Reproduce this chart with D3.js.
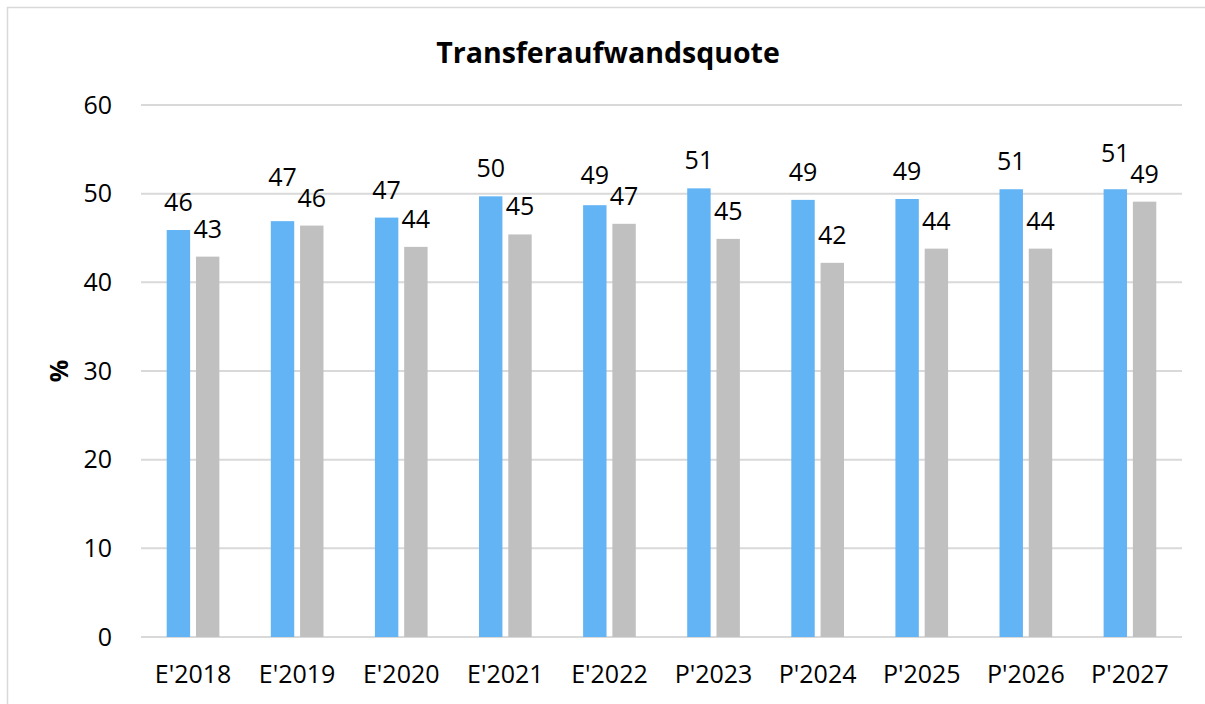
<!DOCTYPE html>
<html>
<head>
<meta charset="utf-8">
<script src="https://cdn.jsdelivr.net/npm/d3@7"></script>
<style>
  body { margin: 0; background: #fff; }
  text { font-family: "Open Sans", sans-serif; fill: #000; }
</style>
</head>
<body>
<script>
var width = 1205,
    height = 704;

var categories = ["E'2018", "E'2019", "E'2020", "E'2021", "E'2022", "P'2023", "P'2024", "P'2025", "P'2026", "P'2027"];
var seriesA = [45.9, 46.9, 47.3, 49.7, 48.7, 50.6, 49.3, 49.4, 50.5, 50.5];   // blue
var seriesB = [42.9, 46.4, 44.0, 45.4, 46.6, 44.9, 42.2, 43.8, 43.8, 49.1];   // gray
var yTicks = [0, 10, 20, 30, 40, 50, 60];

var margin = {left: 141, right: 23, top: 105, bottom: 67};

var svg = d3.select("body").append("svg")
    .attr("width", width)
    .attr("height", height);

// chart border
svg.append("rect")
    .attr("x", 7.5).attr("y", 7.5)
    .attr("width", width + 20).attr("height", height + 20)
    .attr("fill", "none")
    .attr("stroke", "#d9d9d9")
    .attr("stroke-width", 1.5);

var xScale = d3.scaleBand()
    .domain(categories)
    .range([margin.left, width - margin.right]);

var groupW = xScale.bandwidth() * 0.506;
var x1 = d3.scaleBand()
    .domain(["A", "B"])
    .range([0, groupW])
    .paddingInner(0.2);

var yScale = d3.scaleLinear()
    .domain([0, 60])
    .range([height - margin.bottom, margin.top]);

// gridlines
svg.append("g")
    .selectAll("line")
    .data(yTicks)
    .enter()
    .append("line")
    .attr("x1", margin.left)
    .attr("x2", width - margin.right)
    .attr("y1", function(d) { return yScale(d); })
    .attr("y2", function(d) { return yScale(d); })
    .attr("stroke", "#d9d9d9")
    .attr("stroke-width", 2);

// y axis labels
var yAxis = d3.axisLeft(yScale).tickValues(yTicks).tickSize(0).tickPadding(29);
svg.append("g")
    .attr("transform", "translate(" + margin.left + ",0)")
    .call(yAxis)
    .call(function(g) { g.select(".domain").remove(); })
    .selectAll("text")
    .style("font-family", "Open Sans, sans-serif")
    .style("font-size", "25px")
    .attr("fill", "#000");

// x axis labels
var xAxis = d3.axisBottom(xScale).tickSize(0).tickPadding(28);
svg.append("g")
    .attr("transform", "translate(0," + yScale(0) + ")")
    .call(xAxis)
    .call(function(g) { g.select(".domain").remove(); })
    .selectAll("text")
    .style("font-family", "Open Sans, sans-serif")
    .style("font-size", "25px")
    .attr("fill", "#000");

var rows = categories.map(function(c, i) {
    return {cat: c, a: seriesA[i], b: seriesB[i]};
});

function barX(d, key) {
    return xScale(d.cat) + (xScale.bandwidth() - groupW) / 2 + x1(key);
}

var groups = svg.append("g").selectAll("g")
    .data(rows)
    .enter()
    .append("g");

groups.append("rect")
    .attr("x", function(d) { return barX(d, "A"); })
    .attr("y", function(d) { return yScale(d.a); })
    .attr("width", x1.bandwidth())
    .attr("height", function(d) { return yScale(0) - yScale(d.a); })
    .attr("fill", "#63b4f5");

groups.append("rect")
    .attr("x", function(d) { return barX(d, "B"); })
    .attr("y", function(d) { return yScale(d.b); })
    .attr("width", x1.bandwidth())
    .attr("height", function(d) { return yScale(0) - yScale(d.b); })
    .attr("fill", "#c0c0c0");

// data labels, blue label pushed up when it would hit the gray one
var gap = 19, lblH = 21;
groups.append("text")
    .attr("x", function(d) { return barX(d, "B") + x1.bandwidth() / 2; })
    .attr("y", function(d) { return yScale(d.b) - gap; })
    .attr("text-anchor", "middle")
    .style("font-size", "25px")
    .text(function(d) { return Math.round(d.b); });

groups.append("text")
    .attr("x", function(d) { return barX(d, "A") + x1.bandwidth() / 2; })
    .attr("y", function(d) {
        var ya = yScale(d.a) - gap,
            yb = yScale(d.b) - gap;
        return (yb - ya < lblH) ? yb - lblH : ya;
    })
    .attr("text-anchor", "middle")
    .style("font-size", "25px")
    .text(function(d) { return Math.round(d.a); });

// title
svg.append("text")
    .attr("x", 608)
    .attr("y", 63)
    .attr("text-anchor", "middle")
    .style("font-size", "28.5px")
    .style("font-weight", "bold")
    .text("Transferaufwandsquote");

// y axis title
svg.append("text")
    .attr("transform", "translate(68," + yScale(30) + ") rotate(-90)")
    .attr("text-anchor", "middle")
    .style("font-size", "25px")
    .style("font-weight", "bold")
    .text("%");
</script>
</body>
</html>
